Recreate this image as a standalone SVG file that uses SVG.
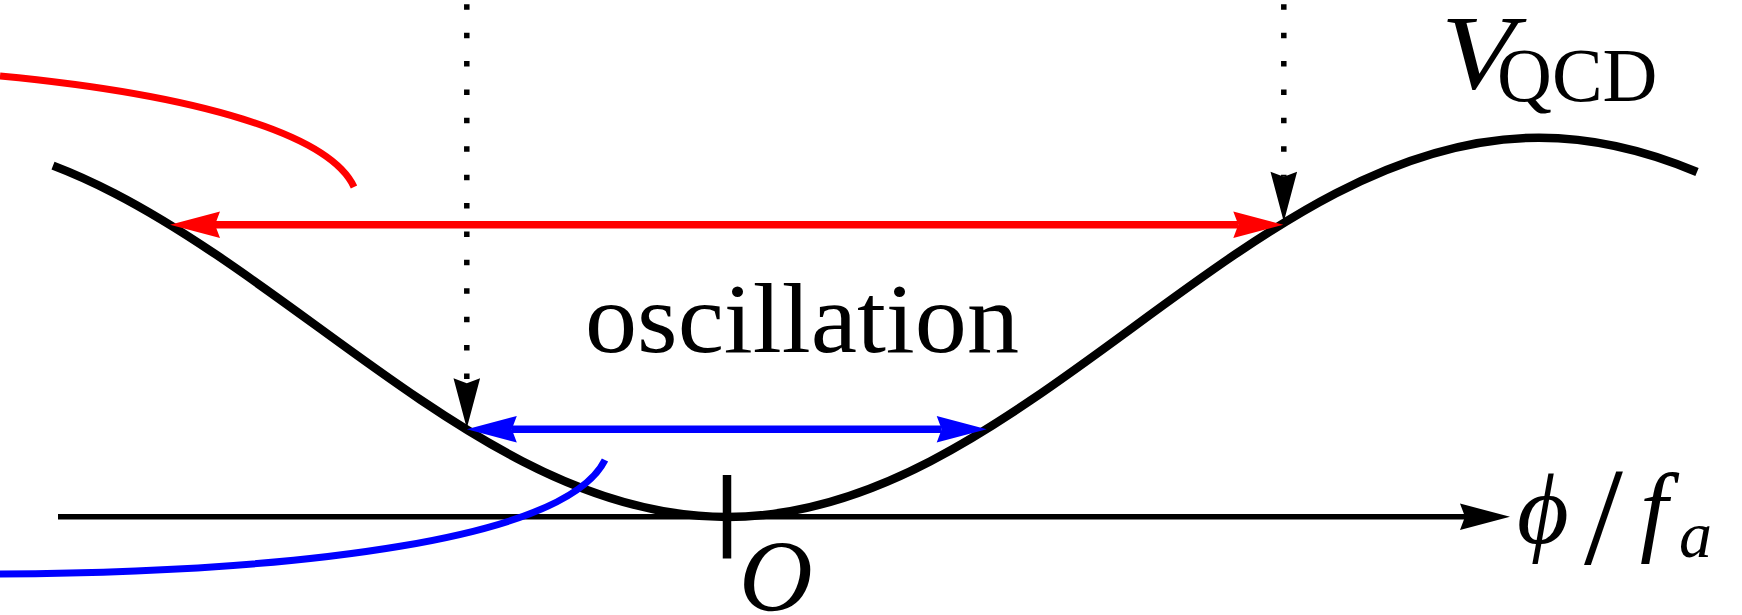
<svg xmlns="http://www.w3.org/2000/svg" width="1742" height="615" viewBox="0 0 1742 615">
  <style>
    .curve { fill: none; stroke: #000; stroke-width: 8.5; }
    .axis { fill: none; stroke: #000; stroke-width: 5.5; }
    .tick { fill: none; stroke: #000; stroke-width: 8.5; }
    .dots { fill: none; stroke: #000; stroke-width: 5.5; stroke-dasharray: 5.5 22.9; }
    .red { fill: none; stroke: #ff0000; stroke-width: 7.5; }
    .blue { fill: none; stroke: #0000ff; stroke-width: 7.5; }
    .redc { fill: none; stroke: #ff0000; stroke-width: 7; }
    .bluec { fill: none; stroke: #0000ff; stroke-width: 7; }
    .rm { font-family: "Liberation Serif", "Times New Roman", serif; fill: #000; }
    .it { font-family: "Liberation Serif", "Times New Roman", serif; font-style: italic; fill: #000; }
  </style>
  <defs>
    <marker id="hk" markerUnits="userSpaceOnUse" orient="auto-start-reverse" overflow="visible" markerWidth="1" markerHeight="1" refX="0" refY="0">
      <path d="M45,0 L-5,-13.3 L0,0 L-5,13.3 Z" fill="#000"/>
    </marker>
    <marker id="hr" markerUnits="userSpaceOnUse" orient="auto-start-reverse" overflow="visible" markerWidth="1" markerHeight="1" refX="0" refY="0">
      <path d="M45,0 L-5,-13.3 L0,0 L-5,13.3 Z" fill="#ff0000"/>
    </marker>
    <marker id="hb" markerUnits="userSpaceOnUse" orient="auto-start-reverse" overflow="visible" markerWidth="1" markerHeight="1" refX="0" refY="0">
      <path d="M45,0 L-5,-13.3 L0,0 L-5,13.3 Z" fill="#0000ff"/>
    </marker>
  </defs>

  <g id="potential">
    <path class="curve" d="M53,165.65 C73.42,173.43 93.83,182.72 114.25,193.25 C182.33,228.36 250.42,277.70 318.5,327.35 C386.58,377.00 454.67,426.34 522.75,461.45 C590.83,496.56 658.92,517 727,517 C794.67,517 862.33,496.56 930,461.45 C997.67,426.34 1065.33,377.00 1133,327.35 C1200.67,277.70 1268.33,228.36 1336,193.25 C1403.67,158.14 1471.33,137.70 1539,137.70 C1591.67,137.70 1644.33,149.83 1697,172"/>
  </g>

  <g id="axis">
    <line class="axis" x1="58" y1="516.8" x2="1465" y2="516.8" marker-end="url(#hk)"/>
    <line class="tick" x1="727" y1="475" x2="727" y2="558.5"/>
  </g>

  <g id="connectors">
    <line class="dots" x1="466.8" y1="4.25" x2="466.8" y2="383.3" marker-end="url(#hk)"/>
    <line class="dots" x1="1283.8" y1="4.25" x2="1283.8" y2="176.7" marker-end="url(#hk)"/>
    <line class="red" x1="215" y1="224.7" x2="1238.3" y2="224.7" marker-start="url(#hr)" marker-end="url(#hr)"/>
    <line class="blue" x1="511.8" y1="429.3" x2="941.7" y2="429.3" marker-start="url(#hb)" marker-end="url(#hb)"/>
  </g>

  <g id="red-trajectory">
    <path class="redc" d="M0,76 C200,95 330,135 354,187"/>
  </g>
  <g id="blue-trajectory">
    <path class="bluec" d="M0,574 C300,572 565,540 605,460"/>
  </g>

  <g id="label-oscillation">
    <text class="rm" x="585" y="352" font-size="100" textLength="434" lengthAdjust="spacingAndGlyphs">oscillation</text>
  </g>
  <g id="label-V">
    <text class="it" x="1441" y="88" font-size="105" textLength="74" lengthAdjust="spacingAndGlyphs">V</text>
    <text class="rm" x="1497" y="101" font-size="76">QCD</text>
  </g>
  <g id="label-phi">
    <text class="it" x="1517" y="543" font-size="100">ϕ</text>
    <text class="rm" x="1584" y="564" font-size="140">/</text>
    <text class="it" x="1640" y="543" font-size="100">f</text>
    <text class="it" x="1679" y="556.7" font-size="66">a</text>
  </g>
  <g id="label-O">
    <text class="it" x="739" y="611" font-size="102">O</text>
  </g>
</svg>
